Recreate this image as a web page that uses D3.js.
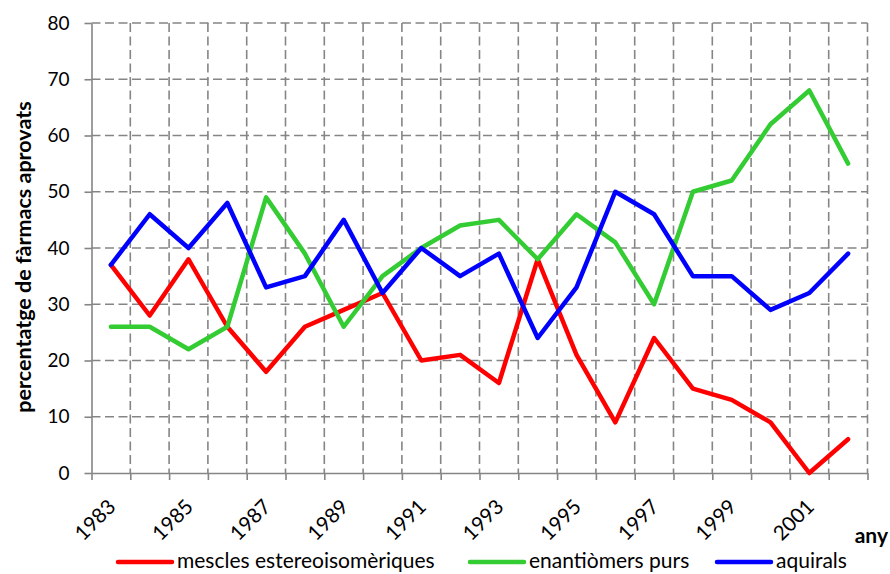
<!DOCTYPE html>
<html>
<head>
<meta charset="utf-8">
<script src="https://cdn.jsdelivr.net/npm/d3@7"></script>
<style>
  body { margin: 0; background: #fff; }
  svg { display: block; font-family: Lato, "Open Sans", sans-serif; }
</style>
</head>
<body>
<svg id="chart" width="890" height="574"></svg>
<script>
// Annual share of approved drugs by stereochemical type
const years = d3.range(1983, 2003);
const mescles = [37, 28, 38, 26, 18, 26, 29, 32, 20, 21, 16, 38, 21, 9, 24, 15, 13, 9, 0, 6];
const enantiomers = [26, 26, 22, 26, 49, 39, 26, 35, 40, 44, 45, 38, 46, 41, 30, 50, 52, 62, 68, 55];
const aquirals = [37, 46, 40, 48, 33, 35, 45, 32, 40, 35, 39, 24, 33, 50, 46, 35, 35, 29, 32, 39];
const yTicks = [0, 10, 20, 30, 40, 50, 60, 70, 80];
const xLabelYears = [1983, 1985, 1987, 1989, 1991, 1993, 1995, 1997, 1999, 2001];

const series = [
  { name: "mescles estereoisomèriques", values: mescles, color: "#ff0000" },
  { name: "enantiòmers purs", values: enantiomers, color: "#33cc33" },
  { name: "aquirals", values: aquirals, color: "#0000ff" }
];

const svg = d3.select("#chart");
const plotLeft = 91.5, plotRight = 867.5, plotTop = 23, plotBottom = 473;
const gridColor = "#858585";

const x = d3.scaleLinear().domain([years[0] - 0.5, years[years.length - 1] + 0.5]).range([plotLeft, plotRight]);
const y = d3.scaleLinear().domain([0, 80]).range([plotBottom, plotTop]);
const boundaries = d3.range(years[0] - 0.5, years[years.length - 1] + 1, 1);

// dashed gridlines
const grid = svg.append("g").attr("stroke", gridColor).attr("stroke-width", 1.6)
  .attr("stroke-dasharray", "9,4.5").attr("fill", "none");
grid.selectAll("line.h").data(yTicks.filter(d => d > 0)).join("line")
  .attr("x1", plotLeft).attr("x2", plotRight)
  .attr("y1", d => y(d)).attr("y2", d => y(d));
grid.selectAll("line.v").data(boundaries.slice(1)).join("line")
  .attr("x1", d => x(d)).attr("x2", d => x(d))
  .attr("y1", plotTop).attr("y2", plotBottom);

// y axis
const yAxis = svg.append("g").attr("transform", `translate(${plotLeft},0)`)
  .call(d3.axisLeft(y).tickValues(yTicks).tickSize(7).tickPadding(15).tickSizeOuter(0));
yAxis.select(".domain").attr("stroke", gridColor).attr("stroke-width", 1.6);
yAxis.selectAll(".tick line").attr("stroke", gridColor).attr("stroke-width", 1.6);
yAxis.selectAll(".tick text").attr("font-size", 19).attr("fill", "#000")
  .attr("font-family", "Lato, sans-serif");

// x axis with ticks between years
const xAxis = svg.append("g").attr("transform", `translate(0,${plotBottom})`)
  .call(d3.axisBottom(x).tickValues(boundaries).tickSize(7).tickFormat("").tickSizeOuter(0));
xAxis.select(".domain").attr("stroke", gridColor).attr("stroke-width", 1.6);
xAxis.selectAll(".tick line").attr("stroke", gridColor).attr("stroke-width", 1.6);

// rotated year labels
svg.append("g").selectAll("text").data(xLabelYears).join("text")
  .attr("transform", d => `translate(${x(d) + 6},${508}) rotate(-45)`)
  .attr("text-anchor", "end")
  .attr("font-size", 20.5)
  .attr("fill", "#000")
  .text(d => d);

// axis titles
svg.append("text")
  .attr("transform", `translate(31,257) rotate(-90)`)
  .attr("text-anchor", "middle")
  .attr("font-size", 21.5).attr("font-weight", "bold").attr("fill", "#000")
  .text("percentatge de fàrmacs aprovats");
svg.append("text")
  .attr("x", 888).attr("y", 543)
  .attr("text-anchor", "end")
  .attr("font-size", 21).attr("font-weight", "bold").attr("fill", "#000")
  .text("any");

// series lines
const line = d3.line().x((d, i) => x(years[i])).y(d => y(d));
svg.append("g").selectAll("path").data(series).join("path")
  .attr("d", d => line(d.values))
  .attr("fill", "none")
  .attr("stroke", d => d.color)
  .attr("stroke-width", 4.5)
  .attr("stroke-linejoin", "round")
  .attr("stroke-linecap", "round");

// legend
const legendX = [118, 470, 717];
const legend = svg.append("g").selectAll("g").data(series).join("g")
  .attr("transform", (d, i) => `translate(${legendX[i]},562)`);
legend.append("line")
  .attr("x1", 0).attr("x2", 54).attr("y1", 0).attr("y2", 0)
  .attr("stroke", d => d.color).attr("stroke-width", 4.5).attr("stroke-linecap", "round");
legend.append("text")
  .attr("x", 59).attr("y", 6)
  .attr("font-size", 21).attr("fill", "#000")
  .text(d => d.name);
</script>
</body>
</html>
